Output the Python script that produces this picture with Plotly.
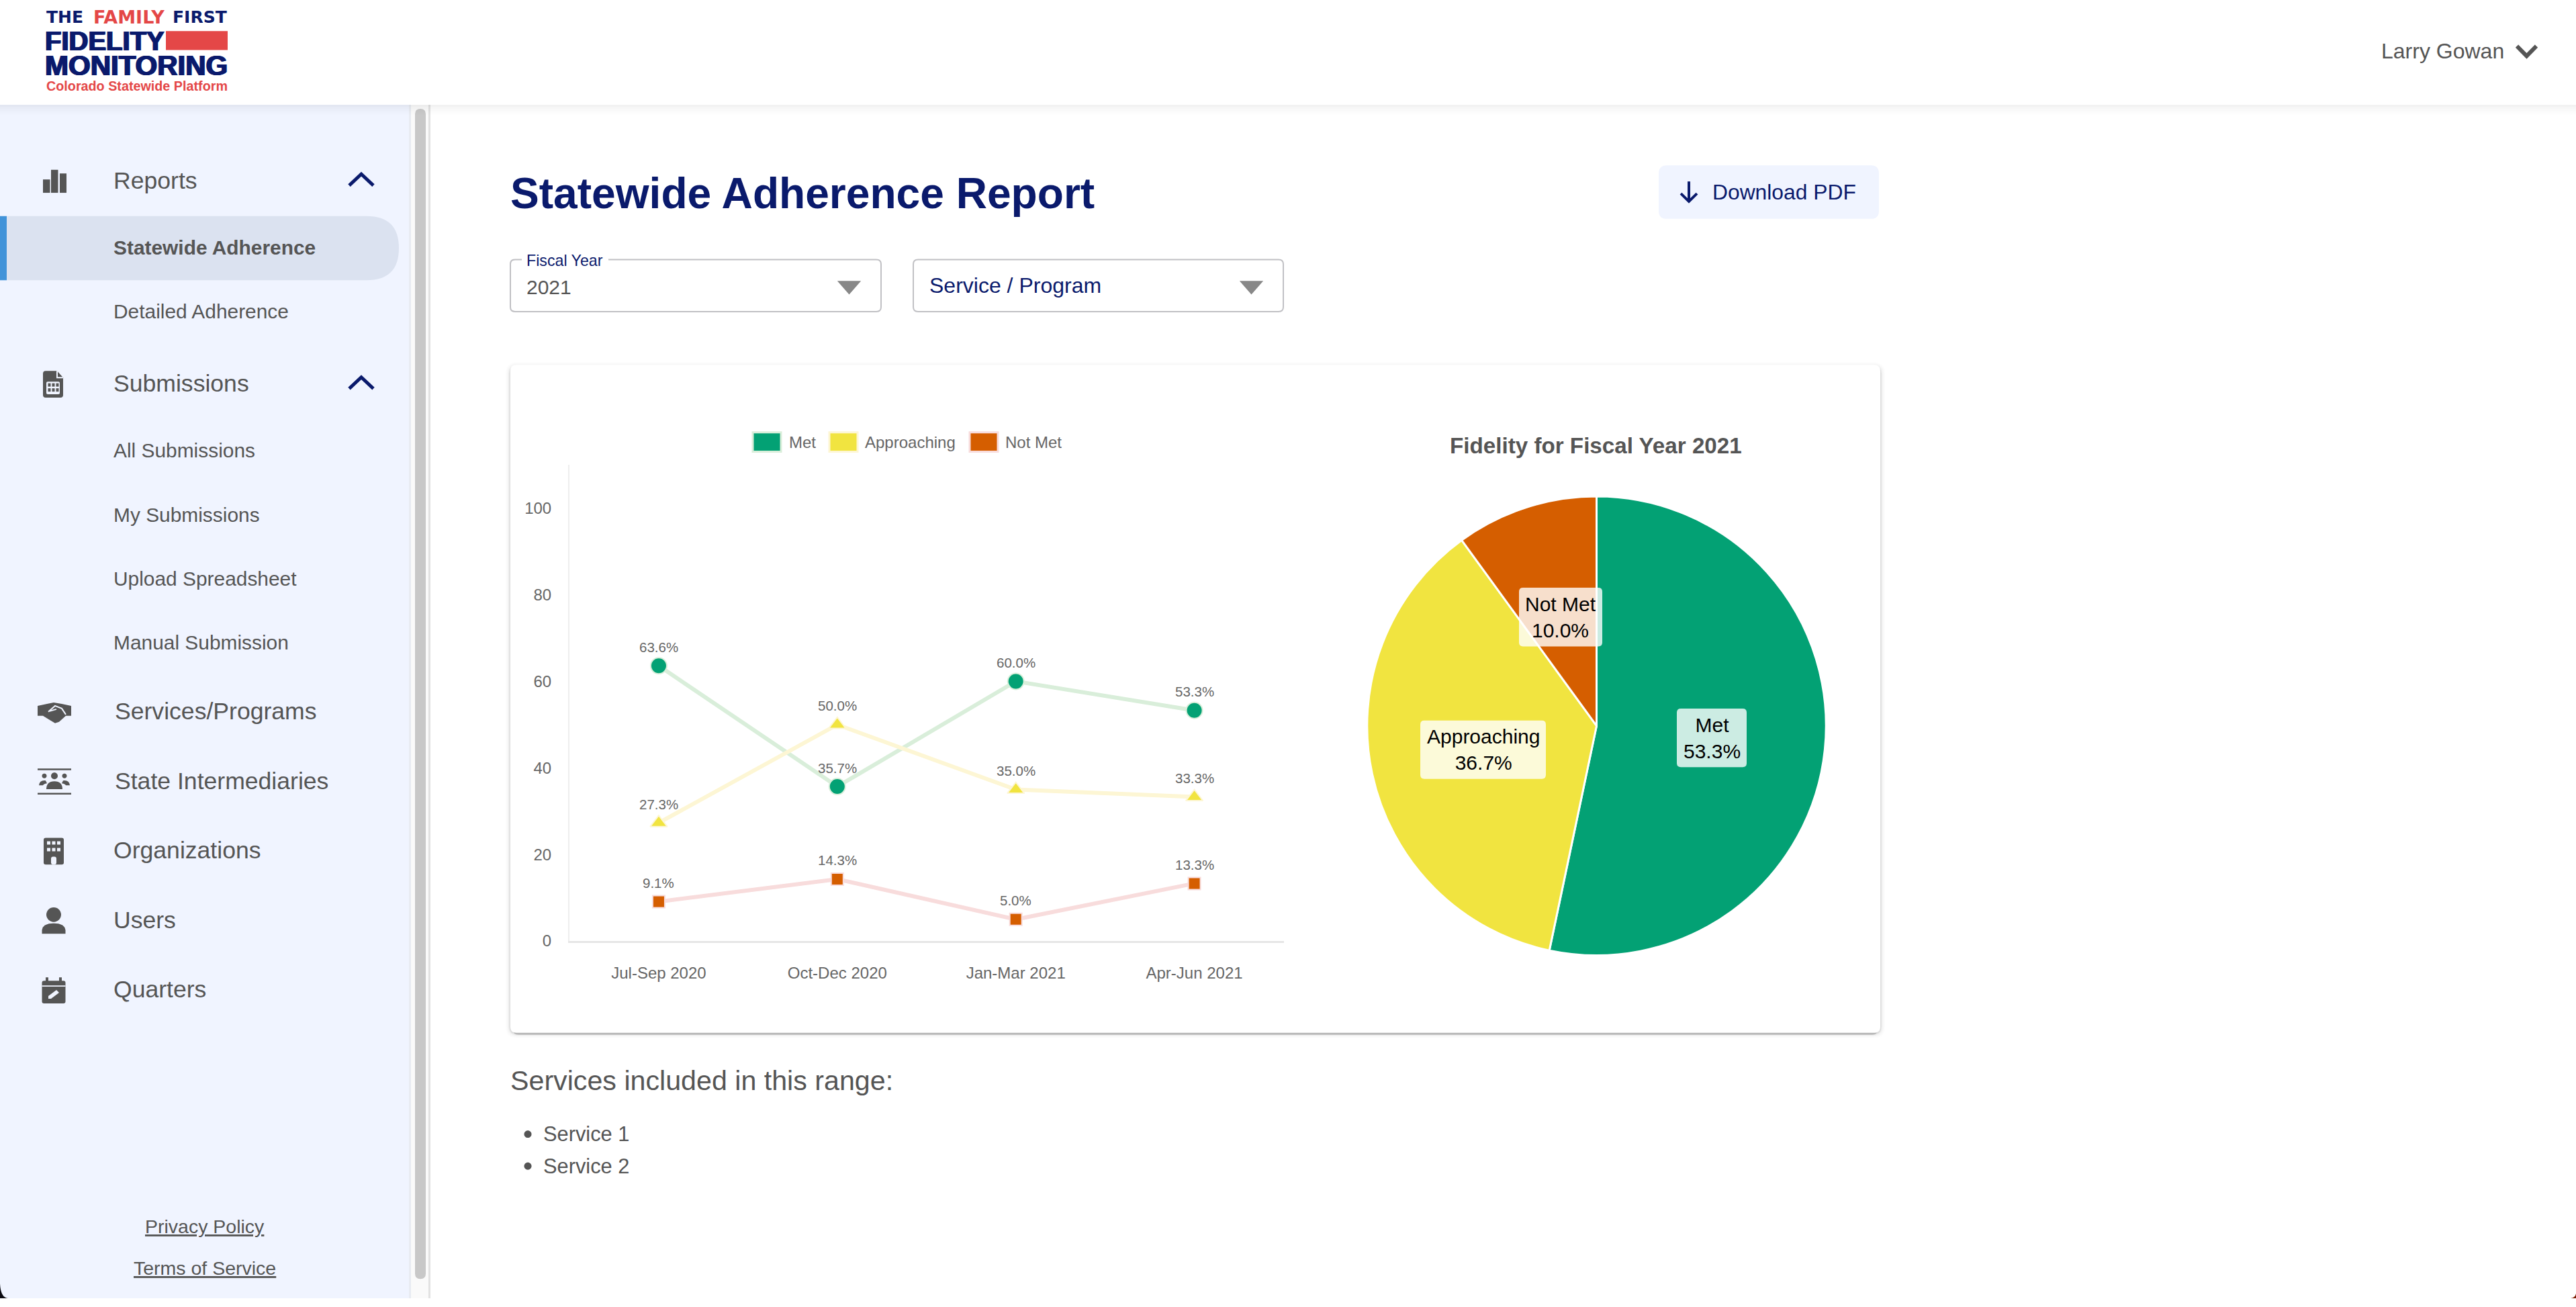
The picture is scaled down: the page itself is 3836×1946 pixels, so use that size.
"""Statewide Adherence Report page: line chart and pie inside the app chrome."""
import plotly.graph_objects as go

W, H = 3836, 1946
FONT = "Liberation Sans"
NAVY = "#0a1a6c"
RED = "#e44747"
GREY = "#555555"
AXIS_TEXT = "#666666"
SIDEBAR = "#f0f4ff"

# chart data
QUARTERS = ["Jul-Sep 2020", "Oct-Dec 2020", "Jan-Mar 2021", "Apr-Jun 2021"]
MET = [63.6, 35.7, 60.0, 53.3]
APPROACHING = [27.3, 50.0, 35.0, 33.3]
NOT_MET = [9.1, 14.3, 5.0, 13.3]
Y_TICKS = [0, 20, 40, 60, 80, 100]

PIE_LABELS = ["Met", "Approaching", "Not Met"]
PIE_VALUES = [53.3, 36.7, 10.0]
PIE_COLORS = ["#03a174", "#f1e440", "#d55e00"]
LINE_COLORS = ["#d9eeda", "#fdf6d4", "#f8dcdc"]
SYMBOLS = ["circle", "triangle-up", "square"]
MARKER_SIZES = [24, 22, 18]

# page text
REPORT_ITEMS = [("Statewide Adherence", 371), ("Detailed Adherence", 467)]
SUBMISSION_ITEMS = [("All Submissions", 675), ("My Submissions", 772),
                    ("Upload Spreadsheet", 867), ("Manual Submission", 963)]
MAIN_ITEMS = [("Services/Programs", 1066, 171), ("State Intermediaries", 1171, 171),
              ("Organizations", 1275, 169), ("Users", 1379, 169), ("Quarters", 1483, 169)]
SERVICES = ["Service 1", "Service 2"]

shapes = []
annotations = []


def rrect_path(x0, y0, x1, y1, r):
    return (f"M{x0 + r},{y0} L{x1 - r},{y0} Q{x1},{y0} {x1},{y0 + r} L{x1},{y1 - r} "
            f"Q{x1},{y1} {x1 - r},{y1} L{x0 + r},{y1} Q{x0},{y1} {x0},{y1 - r} "
            f"L{x0},{y0 + r} Q{x0},{y0} {x0 + r},{y0} Z")


def circle_path(cx, cy, r):
    k = r * 0.5523
    return (f"M{cx - r},{cy} C{cx - r},{cy - k} {cx - k},{cy - r} {cx},{cy - r} "
            f"C{cx + k},{cy - r} {cx + r},{cy - k} {cx + r},{cy} "
            f"C{cx + r},{cy + k} {cx + k},{cy + r} {cx},{cy + r} "
            f"C{cx - k},{cy + r} {cx - r},{cy + k} {cx - r},{cy} Z")


def add_path(path, fill=None, line=None, width=0, layer="below"):
    shapes.append(dict(type="path", xref="x", yref="y", path=path, layer=layer,
                       fillcolor=fill or "rgba(0,0,0,0)",
                       line=dict(color=line or "rgba(0,0,0,0)", width=width)))


def add_rect(x0, y0, x1, y1, fill, r=0, layer="below", line=None, width=0):
    add_path(rrect_path(x0, y0, x1, y1, r) if r else f"M{x0},{y0} L{x1},{y0} L{x1},{y1} L{x0},{y1} Z",
             fill=fill, line=line, width=width, layer=layer)


def add_text(x, y, text, size, color=GREY, anchor="left", weight=400, family=FONT, shadow=None):
    font = dict(family=family, size=size, color=color, weight=weight)
    if shadow:
        font["shadow"] = shadow
    annotations.append(dict(xref="x", yref="y", x=x, y=y, text=text, showarrow=False,
                            xanchor=anchor, yanchor="middle", align="center",
                            borderpad=0, borderwidth=0, font=font))


# ---- sidebar -----------------------------------------------------------
add_rect(0, 157, 611, H, SIDEBAR)
add_rect(611, 157, 638, H, "#fafafa")
add_rect(609, 157, 612, H, "#e8ebf2")
add_rect(638, 157, 641, H, "#e2e2e2")
add_rect(618, 163, 634, 1917, "#c8c8c8", r=8)
add_path("M10,324 L546,324 Q594,324 594,372 Q594,420 546,420 L10,420 Z", fill="#dbe2f0")
add_rect(0, 324, 10, 420, "#4193d9")
# window corners that show in the screenshot
add_path("M0,1924 Q1,1945 12,1946 L0,1946 Z", fill="#0b0b12")
add_path("M3836,1939 Q3835,1945 3828,1946 L3836,1946 Z", fill="#7a1a00")

add_text(169, 271, "Reports", 35.6)
add_text(169, 575, "Submissions", 35.6)
for i, (label, y) in enumerate(REPORT_ITEMS):
    add_text(169, y, label, 29.9, weight=700 if i == 0 else 400)
for label, y in SUBMISSION_ITEMS:
    add_text(169, y, label, 29.9)
for label, y, x in MAIN_ITEMS:
    add_text(x, y, label, 35.6)
add_text(305, 1838, "<u>Privacy Policy</u>", 28.5, anchor="center")
add_text(305, 1901, "<u>Terms of Service</u>", 28.5, anchor="center")

# sidebar icons
for x0, y0, x1 in [(64, 269, 74.5), (76, 254.5, 86.5), (89, 260, 99)]:
    add_rect(x0, y0, x1, 289, GREY)
for y in [258, 562.5]:
    add_path(f"M520,{y + 20} L538,{y + 3} L556,{y + 20}", line=NAVY, width=5)
# submissions file icon
add_path("M68,556 L85,556 L94,566 L94,592 Q94,596 90,596 L68,596 Q64,596 64,592 L64,560 Q64,556 68,556 Z", fill=GREY)
add_path("M85,556 L85,566 L94,566", line=SIDEBAR, width=2)
add_rect(69, 572, 89, 591, SIDEBAR, r=2)
for x in [71.5, 77.5, 83.5]:
    for y in [574.5, 582]:
        add_rect(x, y, x + 4, y + 5, GREY)
# handshake
add_path("M56,1058 L70,1055 L80,1053 L92,1055 L106,1058 L106,1073 L98,1073 L88,1082 L82,1084 L72,1078 "
         "L64,1073 L56,1073 Z", fill=GREY)
add_path("M72,1067 L82,1058 L92,1062 L98,1071", line=SIDEBAR, width=2)
add_path("M74,1066 L84,1063", line=SIDEBAR, width=2)
# state intermediaries
add_rect(56, 1152, 106, 1154.5, GREY)
add_rect(56, 1188.5, 106, 1191, GREY)
for cx, cy, r in [(66, 1163, 3.5), (81, 1163, 5), (96, 1163, 3.5)]:
    add_path(circle_path(cx, cy, r), fill=GREY)
add_path("M58,1177 Q59,1169 68,1170 L70,1174 Q65,1175 64,1177 Z", fill=GREY)
add_path("M104,1177 Q103,1169 94,1170 L92,1174 Q97,1175 98,1177 Z", fill=GREY)
add_path("M69,1183 Q69,1171 81,1171 Q93,1171 93,1183 Z", fill=GREY)
# organizations
add_rect(65, 1256, 95, 1296, GREY, r=3)
for x in [70, 77.5, 85]:
    for y in [1261, 1271]:
        add_rect(x, y, x + 5, y + 5, SIDEBAR)
add_rect(76, 1284, 84, 1296, SIDEBAR, r=3)
# users
add_path(circle_path(80, 1371, 11), fill=GREY)
add_path("M62.5,1399.5 L62.5,1394 Q64,1384 80,1384 Q96,1384 97.5,1394 L97.5,1399.5 Z", fill=GREY)
# quarters
add_rect(62.5, 1470, 97.5, 1504, GREY, r=3)
add_rect(68, 1465, 72, 1473, GREY)
add_rect(88, 1465, 92, 1473, GREY)
add_rect(62.5, 1477, 97.5, 1479, SIDEBAR)
add_path("M72,1497 L72,1493 L84,1484 L88,1488 L76,1497 Z", fill=SIDEBAR)

# ---- header ------------------------------------------------------------
for i, alpha in enumerate([0.05, 0.035, 0.025, 0.015, 0.008]):
    add_rect(0, 157 + i * 3, W, 160 + i * 3, f"rgba(0,0,0,{alpha})")
add_rect(0, 0, W, 157, "#ffffff")
add_text(69, 26, "THE", 25, NAVY, weight=700, family="DejaVu Sans")
add_text(139, 26, "FAMILY", 27, RED, weight=700, family="DejaVu Sans")
add_text(257, 26, "FIRST", 25, NAVY, weight=700, family="DejaVu Sans")
heavy = f"1px 0 0 {NAVY}, -1px 0 0 {NAVY}"
add_text(67, 61, "FIDELITY", 40, NAVY, weight=700, shadow=heavy)
add_text(67, 98, "MONITORING", 42, NAVY, weight=700, shadow=heavy)
add_rect(247, 46.5, 339, 75, RED)
add_text(69, 129, "Colorado Statewide Platform", 19.75, RED, weight=700)
add_text(3546, 77, "Larry Gowan", 32)
add_path("M3748,69 L3762.5,84 L3777,69", line=GREY, width=6)

# ---- page title row ----------------------------------------------------
add_text(760, 290, "Statewide Adherence Report", 64.1, NAVY, weight=700)
add_rect(2470, 248, 2798, 328, SIDEBAR, r=12)
add_path("M2515,272 L2515,301", line=NAVY, width=4)
add_path("M2503,290 L2515,302 L2527,290", line=NAVY, width=4)
add_text(2550, 288, "Download PDF", 31.8, NAVY)

# select boxes
for x0, x1 in [(760, 1312), (1360, 1911)]:
    add_rect(x0, 389, x1, 467, "#ffffff", r=7, line="#c0c0c4", width=2)
    add_path(f"M{x1 - 63},422 L{x1 - 32},422 L{x1 - 47.5},440 Z", fill="#888888", line="#888888", width=2)
add_rect(777, 384, 906, 394, "#ffffff")
add_text(784, 391, "Fiscal Year", 23.2, NAVY)
add_text(784, 430, "2021", 30)
add_text(1384, 428, "Service / Program", 32, NAVY)

# ---- card --------------------------------------------------------------
for grow, alpha in [(7, 0.012), (5, 0.02), (3, 0.035), (1.5, 0.07)]:
    add_rect(760 - grow, 547 - grow + 3, 2800 + grow, 1548 + grow + 1, f"rgba(0,0,0,{alpha})", r=10 + grow)
add_rect(764, 1530, 2796, 1551, "rgba(0,0,0,0.18)", r=8)
add_rect(760, 547, 2800, 1548, "#ffffff", r=9)

# ---- below the card ----------------------------------------------------
add_text(760, 1620, "Services included in this range:", 41.2)
for label, y in zip(SERVICES, [1700, 1748]):
    add_path(circle_path(786, y, 5.5), fill=GREY)
    add_text(809, y, label, 30.8)

# ---- legend of the line chart ------------------------------------------
for name, color, pale, x0, xt in zip(PIE_LABELS, PIE_COLORS, LINE_COLORS,
                                     [1121, 1235, 1444], [1175, 1288, 1497]):
    add_rect(x0, 648, x0 + 42, 677, color, line=pale, width=3)
    add_text(xt, 663, name, 24, AXIS_TEXT)

# ---- figure ------------------------------------------------------------
fig = go.Figure()

# invisible trace so the full-page pixel axes exist for the page furniture;
# they come first (x/y) so the chart subplot (x2/y2) draws on top of them
fig.add_trace(go.Scatter(x=[0], y=[0], xaxis="x", yaxis="y", mode="none",
                         showlegend=False, hoverinfo="skip"))

for values, name, color, pale, symbol, size in zip([MET, APPROACHING, NOT_MET], PIE_LABELS,
                                                   PIE_COLORS, LINE_COLORS, SYMBOLS, MARKER_SIZES):
    fig.add_trace(go.Scatter(
        x=QUARTERS, y=values, xaxis="x2", yaxis="y2", mode="lines+markers", name=name, showlegend=False,
        line=dict(color=pale, width=6),
        marker=dict(color=color, symbol=symbol, size=size, line=dict(color=pale, width=2)),
    ))
    for q, v in zip(QUARTERS, values):
        annotations.append(dict(xref="x2", yref="y2", x=q, y=v, text=f"{v:.1f}%", showarrow=False,
                                yshift=28, font=dict(family=FONT, size=20.5, color=AXIS_TEXT)))

fig.add_trace(go.Pie(
    labels=PIE_LABELS, values=PIE_VALUES, sort=False, direction="clockwise", rotation=0,
    marker=dict(colors=PIE_COLORS, line=dict(color="#ffffff", width=3)),
    textinfo="none", showlegend=False,
    domain=dict(x=[(2377.5 - 344) / W, (2377.5 + 344) / W], y=[1 - (1088 + 344) / H, 1 - (1088 - 344) / H]),
))

add_text(2376, 668, "Fidelity for Fiscal Year 2021", 33.2, GREY, anchor="center", weight=700)

# pie data labels sit on translucent rounded boxes
PIE_BOXES = [(2497, 1062, 2601, 1150), (2115, 1080, 2302, 1167.5), (2262, 881, 2386, 969)]
for label, value, (x0, y0, x1, y1) in zip(PIE_LABELS, PIE_VALUES, PIE_BOXES):
    add_rect(x0, y0, x1, y1, "rgba(255,255,255,0.8)", r=6, layer="above")
    add_text((x0 + x1) / 2, (y0 + y1) / 2, f"{label}<br>{value:.1f}%", 30, "#000000", anchor="center")

fig.update_layout(
    width=W, height=H, autosize=False,
    margin=dict(l=0, r=0, t=0, b=0, pad=0),
    paper_bgcolor="#ffffff", plot_bgcolor="rgba(0,0,0,0)",
    showlegend=False, hovermode=False,
    font=dict(family=FONT, color=AXIS_TEXT),
    shapes=shapes, annotations=annotations,
    xaxis=dict(domain=[0, 1], range=[0, W], visible=False, fixedrange=True, anchor="y"),
    yaxis=dict(domain=[0, 1], range=[H, 0], visible=False, fixedrange=True, anchor="x"),
    xaxis2=dict(domain=[848 / W, 1911.5 / W], type="category", categoryorder="array",
                categoryarray=QUARTERS, range=[-0.5, 3.5], showgrid=False, zeroline=False,
                showline=True, linecolor="#e6e6e6", linewidth=3,
                ticks="outside", tickcolor="rgba(0,0,0,0)", ticklen=24, anchor="y2",
                tickfont=dict(family=FONT, size=24, color=AXIS_TEXT)),
    yaxis2=dict(domain=[1 - 1410.5 / H, 1 - 697 / H], range=[0, 110], tickvals=Y_TICKS,
                showgrid=False, zeroline=False, showline=True, linecolor="#eeeeee", linewidth=2,
                ticks="outside", tickcolor="rgba(0,0,0,0)", ticklen=20, anchor="x2",
                tickfont=dict(family=FONT, size=24, color=AXIS_TEXT)),
)

fig.write_html("out.html", config={"displayModeBar": False},
               post_script="document.body.style.margin='0';document.body.style.overflow='hidden';")
